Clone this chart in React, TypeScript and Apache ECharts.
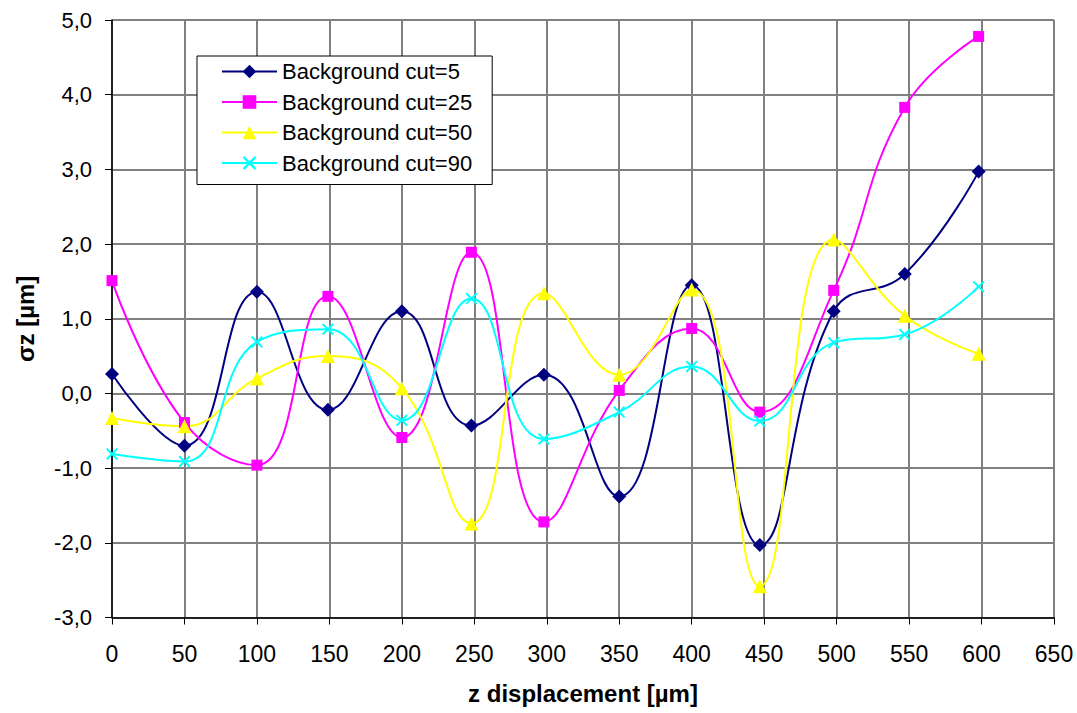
import React, { useEffect, useRef } from "react";
import * as echarts from "echarts";

const zPositions = [0, 50, 100, 149, 200, 248, 298, 350, 400, 447, 498, 547, 598];
const cut5 = [0.26, -0.7, 1.36, -0.22, 1.1, -0.43, 0.25, -1.38, 1.45, -2.03, 1.1, 1.6, 2.97];
const cut25 = [1.51, -0.39, -0.96, 1.3, -0.59, 1.89, -1.72, 0.04, 0.87, -0.25, 1.38, 3.83, 4.78];
const cut50 = [-0.33, -0.44, 0.2, 0.5, 0.07, -1.74, 1.34, 0.25, 1.39, -2.58, 2.06, 1.04, 0.53];
const cut90 = [-0.81, -0.91, 0.69, 0.86, -0.36, 1.27, -0.61, -0.25, 0.36, -0.37, 0.68, 0.79, 1.43];
const seriesNames = [
  "Background cut=5",
  "Background cut=25",
  "Background cut=50",
  "Background cut=90",
];

const FONT = "'Liberation Sans', Arial, sans-serif";
const X_SYMBOL =
  "path://M0,1.2 L1.2,0 L5,3.8 L8.8,0 L10,1.2 L6.2,5 L10,8.8 L8.8,10 L5,6.2 L1.2,10 L0,8.8 L3.8,5 Z";

function pairs(vals: number[]) {
  return vals.map((v, i) => [zPositions[i], v]);
}

export default function App() {
  const ref = useRef<HTMLDivElement>(null);
  useEffect(() => {
    if (!ref.current) return;
    const chart = echarts.init(ref.current, undefined, { renderer: "svg" });
    const mk = (
      name: string,
      vals: number[],
      color: string,
      symbol: string,
      size: number
    ) => ({
      name,
      type: "line",
      data: pairs(vals),
      smooth: 0.45,
      symbol,
      symbolSize: size,
      showAllSymbol: true,
      lineStyle: { color, width: 2 },
      itemStyle: { color, borderWidth: 0 },
      emphasis: { disabled: true },
    });
    chart.setOption({
      animation: false,
      backgroundColor: "#ffffff",
      grid: { left: 112, right: 23, top: 20, bottom: 95.5, containLabel: false },
      legend: {
        show: true,
        orient: "vertical",
        left: 197,
        top: 56,
        padding: [3, 20, 9, 24],
        itemGap: 5.5,
        itemWidth: 55,
        itemHeight: 17,
        backgroundColor: "#ffffff",
        borderColor: "#000000",
        borderWidth: 1,
        borderRadius: 0,
        textStyle: { fontFamily: FONT, fontSize: 22, color: "#000", lineHeight: 25 },
        data: seriesNames,
      },
      xAxis: {
        type: "value",
        min: 0,
        max: 650,
        interval: 50,
        name: "z displacement [µm]",
        nameLocation: "middle",
        nameGap: 64,
        nameTextStyle: { fontFamily: FONT, fontSize: 24, fontWeight: "bold", color: "#000" },
        axisLine: { show: true, onZero: false, lineStyle: { color: "#000", width: 1.5 } },
        axisTick: { show: true, inside: false, length: 7, lineStyle: { color: "#000", width: 1 } },
        axisLabel: { fontFamily: FONT, fontSize: 23, color: "#000", margin: 25 },
        splitLine: { show: true, lineStyle: { color: "#808080", width: 2 } },
      },
      yAxis: {
        type: "value",
        min: -3,
        max: 5,
        interval: 1,
        name: "σz [µm]",
        nameLocation: "middle",
        nameRotate: 90,
        nameGap: 75,
        nameTextStyle: { fontFamily: FONT, fontSize: 24, fontWeight: "bold", color: "#000" },
        axisLine: { show: true, onZero: false, lineStyle: { color: "#000", width: 1.5 } },
        axisTick: { show: true, inside: false, length: 7, lineStyle: { color: "#000", width: 1 } },
        axisLabel: {
          fontFamily: FONT,
          fontSize: 22,
          color: "#000",
          margin: 20,
          formatter: (v: number) => v.toFixed(1).replace(".", ","),
        },
        splitLine: { show: true, lineStyle: { color: "#808080", width: 2 } },
      },
      series: [
        mk(seriesNames[0], cut5, "#000080", "diamond", 14),
        mk(seriesNames[1], cut25, "#FF00FF", "rect", 11),
        mk(seriesNames[2], cut50, "#FFFF00", "triangle", 14),
        mk(seriesNames[3], cut90, "#00FFFF", X_SYMBOL, 12),
      ],
    });
    return () => chart.dispose();
  }, []);
  return (
    <div
      ref={ref}
      style={{ position: "fixed", left: 0, top: 0, width: 1077, height: 713, background: "#fff" }}
    />
  );
}
